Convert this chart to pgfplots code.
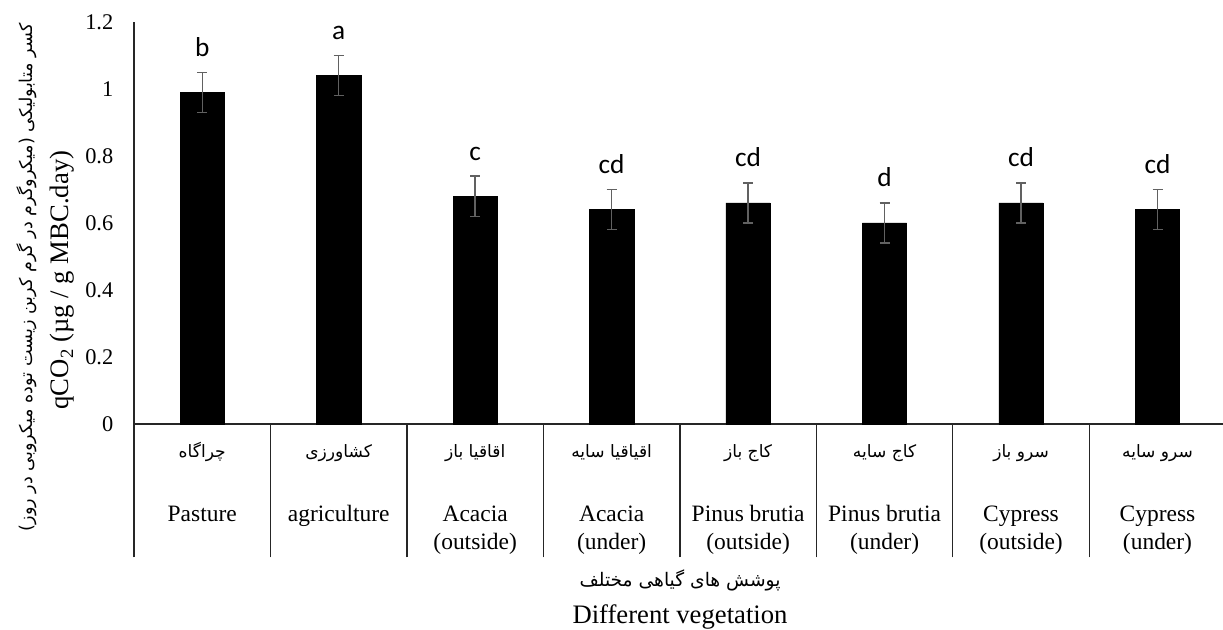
\documentclass[border=0pt]{standalone}
\usepackage{fontspec}
\setmainfont{Liberation Serif}
\newfontfamily\persian[Script=Arabic]{DejaVu Sans}
\newfontfamily\calib{Carlito}
\TeXXeTstate=1
\usepackage{pgfplots}
\pgfplotsset{compat=1.18}
\usepackage{pgfplotstable}

\newcommand{\fa}[1]{{\persian\fontsize{12.8}{14}\selectfont #1}}
\newcommand{\lab}[3]{\begin{tabular}[t]{@{}c@{}}\fa{#1}\\[27pt] #2\\ #3\end{tabular}}

\pgfplotstableread{
x y e top lab
1 0.99 0.06 1.05 b
2 1.04 0.06 1.10 a
3 0.68 0.06 0.74 c
4 0.64 0.06 0.70 cd
5 0.66 0.06 0.72 cd
6 0.60 0.06 0.66 d
7 0.66 0.06 0.72 cd
8 0.64 0.06 0.70 cd
}\data

\begin{document}
\begin{tikzpicture}
\useasboundingbox (-100.5pt,-154.5pt) rectangle (816.75pt,318pt);
\begin{axis}[
  at={(0,0)}, anchor=south west,
  scale only axis,
  width=818.8pt, height=301.5pt,
  xmin=0.5, xmax=8.5,
  ymin=0, ymax=1.2,
  axis x line=bottom, axis y line=left,
  axis line style={-, line width=1pt, black!85},
  xtick={1,...,8},
  xticklabels={
    \lab{\beginR چراگاه\endR}{Pasture}{},
    \lab{\beginR کشاورزی\endR}{agriculture}{},
    \lab{\beginR اقاقیا باز\endR}{Acacia}{(outside)},
    \lab{\beginR اقیاقیا سایه\endR}{Acacia}{(under)},
    \lab{\beginR کاج باز\endR}{Pinus brutia}{(outside)},
    \lab{\beginR کاج سایه\endR}{Pinus brutia}{(under)},
    \lab{\beginR سرو باز\endR}{Cypress}{(outside)},
    \lab{\beginR سرو سایه\endR}{Cypress}{(under)}},
  minor xtick={0.5,1.5,...,7.5},
  major tick length=0pt,
  minor tick length=100pt,
  tick align=outside,
  xtick style={draw=none},
  minor x tick style={draw=black!85, line width=1pt},
  ytick={0,0.2,...,1.2},
  yticklabels={0,0.2,0.4,0.6,0.8,1,1.2},
  ytick style={draw=none},
  xticklabel style={anchor=base, yshift=-25.5pt, font=\fontsize{17.6}{21}\selectfont},
  yticklabel style={font=\fontsize{16.8}{20}\selectfont, xshift=-12pt},
  /pgf/number format/assume math mode=true,
  clip=false,
]
\addplot[ybar, bar width=33.2pt, fill=black, draw=black,
  error bars/.cd, y dir=both, y explicit,
  error bar style={line width=1.1pt, black!62},
  error mark options={rotate=90, mark size=3.75pt, line width=1.1pt, black!62}]
  table[x=x, y=y, y error=e] {\data};
\addplot[draw=none, mark=none, nodes near coords, point meta=explicit symbolic,
  nodes near coords style={anchor=base, yshift=12pt, inner sep=0pt, font=\calib\fontsize{20.5}{24}\selectfont}]
  table[x=x, y=top, meta=lab] {\data};
\end{axis}
\node[rotate=90, anchor=base, font=\fontsize{20}{24}\selectfont] at (-48.75pt,108pt) {qCO\textsubscript{2} (µg / g MBC.day)};
\node[rotate=90, anchor=base] at (-76pt,110pt) {\persian\fontsize{13.2}{15}\selectfont\beginR کسر متابولیکی (میکروگرم در گرم کربن زیست توده میکروبی در روز)\endR};
\node[anchor=base] at (409.5pt,-122pt) {\persian\fontsize{14}{16}\selectfont\beginR پوشش های گیاهی مختلف\endR};
\node[anchor=base, font=\fontsize{20}{24}\selectfont] at (409.5pt,-150pt) {Different vegetation};
\end{tikzpicture}
\end{document}
